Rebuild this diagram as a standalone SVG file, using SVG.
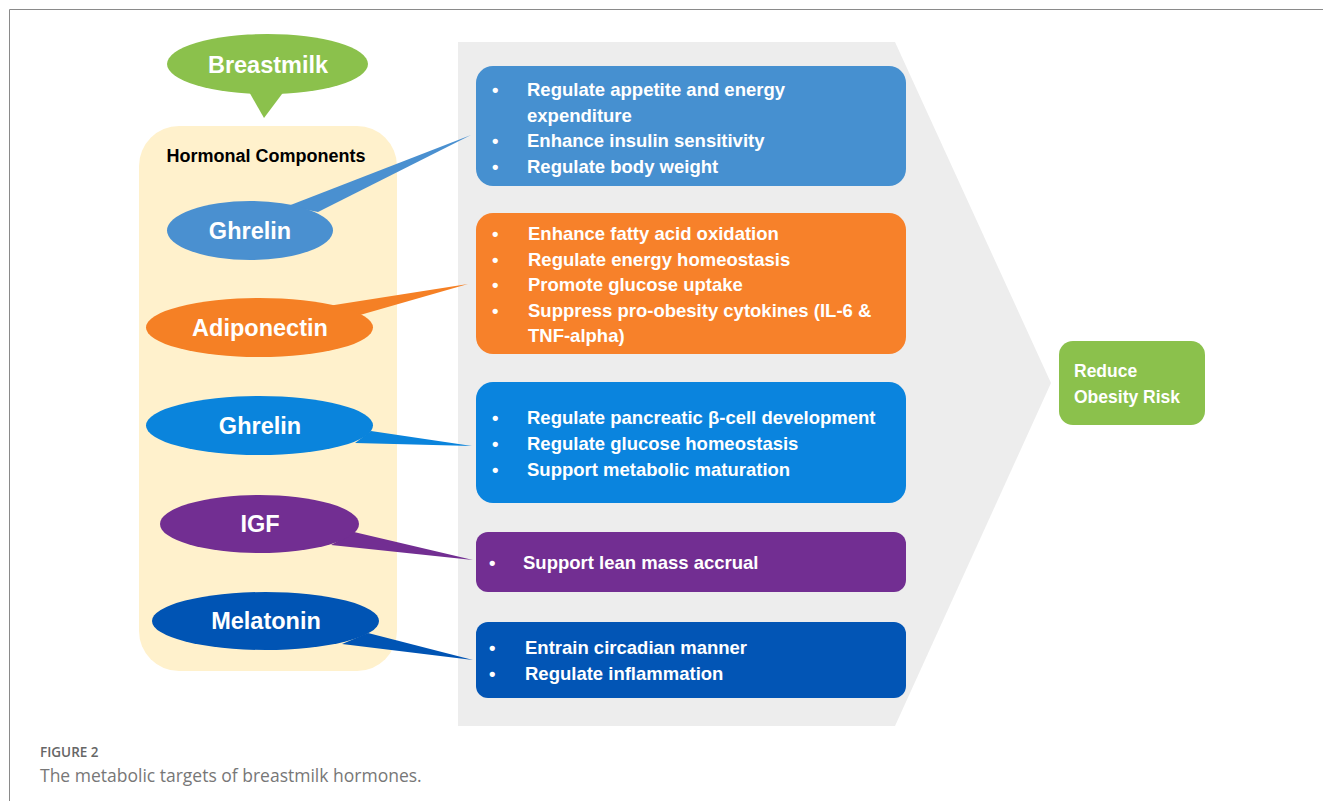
<svg xmlns="http://www.w3.org/2000/svg" width="1323" height="801" viewBox="0 0 1323 801">
  <style>
    .lbl { font-family: "Liberation Sans", Arial, sans-serif; font-weight: bold; fill: #ffffff; }
    .oval { font-size: 23.5px; text-anchor: middle; }
    .item { font-size: 18.5px; }
    .head { font-family: "Liberation Sans", Arial, sans-serif; font-weight: bold; font-size: 18px; fill: #000000; text-anchor: middle; }
    .cap1 { font-family: "Open Sans", "Liberation Sans", sans-serif; font-weight: 600; font-size: 13.5px; fill: #666666; }
    .cap2 { font-family: "Open Sans", "Liberation Sans", sans-serif; font-size: 17.5px; fill: #777777; }
  </style>

  <rect x="0" y="0" width="1323" height="801" fill="#ffffff"/>
  <!-- page frame -->
  <path d="M9.5 801 V9.5 H1323" fill="none" stroke="#8a8a8a" stroke-width="1"/>

  <!-- grey chevron backdrop -->
  <polygon id="chevron" points="458,42 895,42 1051,383 895,726 458,726" fill="#ededed"/>

  <!-- hormone panel -->
  <g id="hormonal-components">
    <rect x="139" y="126" width="258" height="545" rx="40" fill="#fff1cc"/>
    <text class="head" x="266" y="162">Hormonal Components</text>
  </g>

  <!-- breastmilk callout -->
  <g id="breastmilk">
    <polygon points="248,90 285,90 264,118" fill="#8bc14c"/>
    <ellipse cx="267.5" cy="64" rx="100.5" ry="30" fill="#8bc14c"/>
    <text class="lbl oval" x="268" y="73">Breastmilk</text>
  </g>

  <!-- callout tails pointing to the target boxes -->
  <g id="connectors">
    <polygon points="288,206 318,212 471,135" fill="#4a90d0"/>
    <polygon points="328,306 360,315 468,284" fill="#f58025"/>
    <polygon points="371,431 355,443 472,446" fill="#0a84dc"/>
    <polygon points="354,532 331,545 473,560" fill="#722e92"/>
    <polygon points="368,633 342,644 473,660" fill="#0054b4"/>
  </g>

  <!-- hormone ovals -->
  <g id="ghrelin-1">
    <ellipse cx="250" cy="230.5" rx="83" ry="29.5" fill="#4a90d0"/>
    <text class="lbl oval" x="250" y="239">Ghrelin</text>
  </g>
  <g id="adiponectin">
    <ellipse cx="259.5" cy="327.5" rx="113.5" ry="29.5" fill="#f58025"/>
    <text class="lbl oval" x="260" y="336">Adiponectin</text>
  </g>
  <g id="ghrelin-2">
    <ellipse cx="259.5" cy="425.5" rx="113.5" ry="29.5" fill="#0a84dc"/>
    <text class="lbl oval" x="260" y="434">Ghrelin</text>
  </g>
  <g id="igf">
    <ellipse cx="259.5" cy="524" rx="99.5" ry="29" fill="#722e92"/>
    <text class="lbl oval" x="260" y="532">IGF</text>
  </g>
  <g id="melatonin">
    <ellipse cx="265.5" cy="621" rx="113.5" ry="29" fill="#0054b4"/>
    <text class="lbl oval" x="266" y="629">Melatonin</text>
  </g>

  <!-- target boxes -->
  <g id="targets-ghrelin-1">
    <rect x="476" y="66" width="430" height="120" rx="17" fill="#4690d0"/>
    <text class="lbl item" x="492" y="96">•</text>
    <text class="lbl item" x="527" y="96">Regulate appetite and energy</text>
    <text class="lbl item" x="527" y="121.5">expenditure</text>
    <text class="lbl item" x="492" y="147">•</text>
    <text class="lbl item" x="527" y="147">Enhance insulin sensitivity</text>
    <text class="lbl item" x="492" y="172.5">•</text>
    <text class="lbl item" x="527" y="172.5">Regulate body weight</text>
  </g>

  <g id="targets-adiponectin">
    <rect x="476" y="213" width="430" height="141" rx="17" fill="#f7812a"/>
    <text class="lbl item" x="492" y="240">•</text>
    <text class="lbl item" x="528" y="240">Enhance fatty acid oxidation</text>
    <text class="lbl item" x="492" y="265.5">•</text>
    <text class="lbl item" x="528" y="265.5">Regulate energy homeostasis</text>
    <text class="lbl item" x="492" y="291">•</text>
    <text class="lbl item" x="528" y="291">Promote glucose uptake</text>
    <text class="lbl item" x="492" y="316.5">•</text>
    <text class="lbl item" x="528" y="316.5">Suppress pro-obesity cytokines (IL-6 &amp;</text>
    <text class="lbl item" x="528" y="341.5">TNF-alpha)</text>
  </g>

  <g id="targets-ghrelin-2">
    <rect x="476" y="382" width="430" height="121" rx="17" fill="#0a84de"/>
    <text class="lbl item" x="492" y="424">•</text>
    <text class="lbl item" x="527" y="424">Regulate pancreatic β-cell development</text>
    <text class="lbl item" x="492" y="450">•</text>
    <text class="lbl item" x="527" y="450">Regulate glucose homeostasis</text>
    <text class="lbl item" x="492" y="475.5">•</text>
    <text class="lbl item" x="527" y="475.5">Support metabolic maturation</text>
  </g>

  <g id="targets-igf">
    <rect x="476" y="532" width="430" height="60" rx="12" fill="#722e92"/>
    <text class="lbl item" x="489" y="569">•</text>
    <text class="lbl item" x="523" y="569">Support lean mass accrual</text>
  </g>

  <g id="targets-melatonin">
    <rect x="476" y="622" width="430" height="76" rx="12" fill="#0255b5"/>
    <text class="lbl item" x="489" y="654">•</text>
    <text class="lbl item" x="525" y="654">Entrain circadian manner</text>
    <text class="lbl item" x="489" y="680">•</text>
    <text class="lbl item" x="525" y="680">Regulate inflammation</text>
  </g>

  <!-- outcome -->
  <g id="outcome">
    <rect x="1059" y="341" width="146" height="84" rx="14" fill="#8bc14c"/>
    <text class="lbl" x="1074" y="377" font-size="17.5">Reduce</text>
    <text class="lbl" x="1074" y="402.5" font-size="17.5">Obesity Risk</text>
  </g>

  <!-- caption -->
  <text class="cap1" x="40" y="757">FIGURE 2</text>
  <text class="cap2" x="40" y="782">The metabolic targets of breastmilk hormones.</text>
</svg>
